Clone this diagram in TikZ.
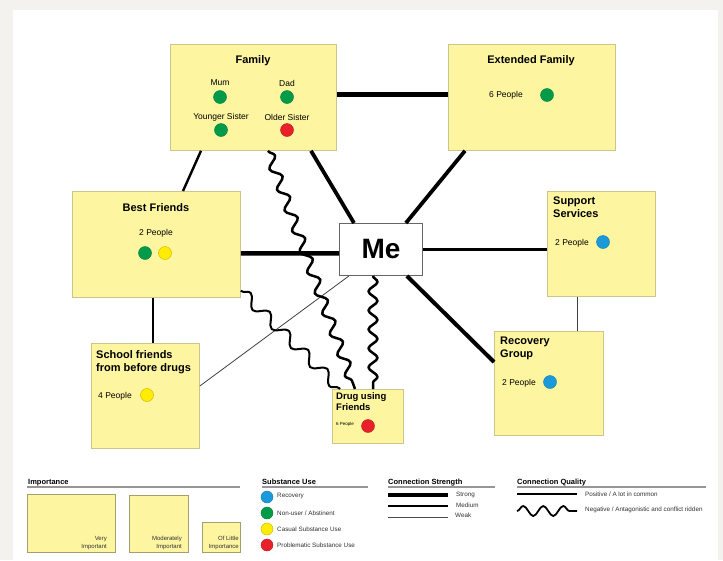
\documentclass[tikz,border=0pt]{standalone}
\usepackage{fontspec}
\setmainfont{Liberation Sans}
\usetikzlibrary{decorations.pathmorphing}
\definecolor{stickyfill}{RGB}{253,245,160}
\definecolor{stickyline}{RGB}{205,198,140}
\definecolor{bggrey}{RGB}{243,242,238}
\definecolor{dotgreen}{RGB}{0,155,72}
\definecolor{dotred}{RGB}{232,32,42}
\definecolor{dotyellow}{RGB}{255,236,0}
\definecolor{dotblue}{RGB}{26,154,217}
\definecolor{legtext}{RGB}{50,50,50}
\definecolor{rulegrey}{RGB}{150,150,150}
\tikzset{
  sticky/.style={draw=stickyline, fill=stickyfill, line width=0.8pt, rectangle, inner sep=0pt, anchor=north west},
  title/.style={font=\bfseries\fontsize{11}{13}\selectfont, inner sep=0pt},
  ltitle/.style={font=\bfseries\fontsize{11}{13}\selectfont, inner sep=0pt, align=left, anchor=north west},
  small/.style={font=\fontsize{8.5}{10}\selectfont, inner sep=0pt},
  dot/.style={circle, minimum size=13pt, inner sep=0pt, line width=0.4pt},
  green dot/.style={dot, fill=dotgreen, draw=dotgreen!80!black},
  red dot/.style={dot, fill=dotred, draw=dotred!80!black},
  yellow dot/.style={dot, fill=dotyellow, draw=dotyellow!75!black},
  blue dot/.style={dot, fill=dotblue, draw=dotblue!80!black},
  strong/.style={line width=4.5pt},
  medium/.style={line width=2.4pt},
  weak/.style={line width=0.8pt, draw=black!75},
  wavy/.style={line width=2.5pt, line join=round, decorate, decoration={snake, segment length=19pt, amplitude=4.5pt}},
  legtitle/.style={font=\bfseries\fontsize{7.5}{9}\selectfont, inner sep=0pt, anchor=base west},
  legrule/.style={draw=rulegrey, line width=1.3pt},
  legtxt/.style={font=\fontsize{6.3}{7.5}\selectfont, text=legtext, inner sep=0pt, anchor=west},
  legbox/.style={draw=stickyline!80!black, fill=stickyfill, line width=0.8pt, rectangle, inner sep=0pt, anchor=north west},
}
\begin{document}
\begin{tikzpicture}[x=1pt,y=-1pt]
\useasboundingbox (0,0) rectangle (723,560);
\fill[bggrey] (0,0) rectangle (723,560);
\fill[white] (13,10) rectangle (718,560);

% boxes
\node[sticky, minimum width=166pt, minimum height=106pt] (fam) at (170,44) {};
\node[sticky, minimum width=167pt, minimum height=106pt] (ext) at (448,44) {};
\node[sticky, minimum width=168pt, minimum height=106pt] (best) at (72,191) {};
\node[sticky, minimum width=108pt, minimum height=105pt] (sup) at (547,191) {};
\node[sticky, minimum width=109pt, minimum height=104pt] (rec) at (494,331) {};
\node[sticky, minimum width=108pt, minimum height=105pt] (school) at (91,343) {};
\node[sticky, minimum width=71pt, minimum height=54pt] (drug) at (332,389) {};
\node[draw=black!60, fill=white, line width=0.9pt, minimum width=83pt, minimum height=52pt, inner sep=0pt, anchor=north west,
      font=\bfseries\fontsize{28}{30}\selectfont] (me) at (339,223) {Me};

% connectors
\draw[strong] ([yshift=3pt]fam.east) -- ([yshift=3pt]ext.west);
\draw[medium] ([xshift=31pt]fam.south west) -- ([xshift=111pt]best.north west);
\draw[strong, line width=3.8pt] ([xshift=141pt]fam.south west) -- ([xshift=15pt]me.north west);
\draw[strong, line width=3.8pt] ([xshift=17pt]ext.south west) -- ([xshift=-17pt]me.north east);
\draw[strong] ([yshift=-9pt]best.east) -- ([yshift=-4pt]me.west);
\draw[weak] ([yshift=-43pt]school.north east) -- ([xshift=10pt]me.south west);
\draw[medium] (me.east) -- (me.east -| sup.west);
\draw[strong, line width=4pt] ([xshift=-16pt]me.south east) -- ([yshift=-31pt]rec.north west);
\draw[medium] ([xshift=81pt]best.south west) -- ([xshift=62pt]school.north west);
\draw[weak] ([xshift=30pt]sup.south west) -- ([xshift=30pt]sup.south west |- rec.north);
\draw[wavy, decoration={segment length=22pt, amplitude=5pt}] ([xshift=98pt]fam.south west) -- ([xshift=23pt]drug.north west);
\draw[wavy, line width=2pt, decoration={segment length=27pt, amplitude=5.5pt}] ([yshift=7pt]best.south east) -- ([xshift=8pt]drug.north west);
\draw[wavy] ([xshift=34pt]me.south west) -- ([xshift=41pt]drug.north west);

% Family
\node[title] (famT) at (253,61) {Family};
\node[small] (mumT) at (220,83) {Mum};
\node[small] (dadT) at (287,83) {Dad};
\node[small] (ysT) at (221,117) {Younger Sister};
\node[small] (osT) at (287,117) {Older Sister};
\node[green dot] (mumD) at (220,97) {};
\node[green dot] (dadD) at (287,97) {};
\node[green dot] (ysD) at (221,130) {};
\node[red dot] (osD) at (287,130) {};

% Extended family
\node[title] (extT) at (531,61) {Extended Family};
\node[small] (extP) at (506,95) {6 People};
\node[green dot] (extD) at (547,95) {};

% Best friends
\node[title] (bestT) at (156,208) {Best Friends};
\node[small] (bestP) at (156,233) {2 People};
\node[green dot] (bestD1) at (145,253) {};
\node[yellow dot] (bestD2) at (165,253) {};

% Support services
\node[ltitle] (supT) at (553,197) {Support\\Services};
\node[small, anchor=west] (supP) at (555,243) {2 People};
\node[blue dot] (supD) at (603,242) {};

% Recovery group
\node[ltitle] (recT) at (500,337) {Recovery\\Group};
\node[small, anchor=west] (recP) at (502,383) {2 People};
\node[blue dot] (recD) at (550,382) {};

% School friends
\node[ltitle] (schT) at (96,350) {School friends\\from before drugs};
\node[small, anchor=west] (schP) at (98,396) {4 People};
\node[yellow dot] (schD) at (147,395) {};

% Drug using friends
\node[ltitle, font=\bfseries\fontsize{9.5}{11.5}\selectfont] (drugT) at (336,392) {Drug using\\Friends};
\node[small, anchor=west, font=\fontsize{4.5}{5}\selectfont] (drugP) at (336,424) {6 People};
\node[red dot] (drugD) at (368,426) {};

% Legend: importance
\node[legtitle] (impT) at (28,484) {Importance};
\draw[legrule] (27,487) -- (240,487);
\node[legbox, minimum width=88pt, minimum height=58pt] (impA) at (27,494) {};
\node[legbox, minimum width=59pt, minimum height=57pt] (impB) at (129,495) {};
\node[legbox, minimum width=38pt, minimum height=30pt] (impC) at (202,522) {};
\node[font=\fontsize{6}{8}\selectfont, text=legtext, align=right, inner sep=0pt, anchor=south east] (impAT) at (107,550) {Very\\Important};
\node[font=\fontsize{6}{8}\selectfont, text=legtext, align=right, inner sep=0pt, anchor=south east] (impBT) at (182,550) {Moderately\\Important};
\node[font=\fontsize{6}{8}\selectfont, text=legtext, align=right, inner sep=0pt, anchor=south east] (impCT) at (239,550) {Of Little\\Importance};

% Legend: substance use
\node[legtitle] (subT) at (262,484) {Substance Use};
\draw[legrule] (262,487) -- (368,487);
\node[blue dot, minimum size=12pt] (subB) at (267,497) {};
\node[green dot, minimum size=12pt] (subG) at (267,513) {};
\node[yellow dot, minimum size=12pt] (subY) at (267,529) {};
\node[red dot, minimum size=12pt] (subR) at (267,545) {};
\node[legtxt] (subBT) at (277,496) {Recovery};
\node[legtxt] (subGT) at (277,513) {Non-user / Abstinent};
\node[legtxt] (subYT) at (277,529) {Casual Substance Use};
\node[legtxt] (subRT) at (277,545) {Problematic Substance Use};

% Legend: connection strength
\node[legtitle] (strT) at (388,484) {Connection Strength};
\draw[legrule] (388,487) -- (495,487);
\coordinate (s1a) at (388,495); \coordinate (s1b) at (448,495);
\coordinate (s2a) at (388,506); \coordinate (s2b) at (448,506);
\coordinate (s3a) at (388,517); \coordinate (s3b) at (448,517);
\draw[line width=4pt] (s1a) -- (s1b);
\draw[line width=2pt] (s2a) -- (s2b);
\draw[line width=0.9pt, draw=black!70] (s3a) -- (s3b);
\node[legtxt] (strS) at (456,495) {Strong};
\node[legtxt] (strM) at (456,505) {Medium};
\node[legtxt] (strW) at (455,515) {Weak};

% Legend: connection quality
\node[legtitle] (qualT) at (517,484) {Connection Quality};
\draw[legrule] (517,487) -- (706,487);
\coordinate (q1a) at (517,494); \coordinate (q1b) at (577,494);
\coordinate (q2a) at (517,511); \coordinate (q2b) at (577,511);
\draw[line width=1.6pt] (q1a) -- (q1b);
\draw[line width=1.8pt, decorate, decoration={snake, segment length=20pt, amplitude=5pt}] (q2a) -- (q2b);
\node[legtxt] (qualP) at (585,494) {Positive / A lot in common};
\node[legtxt] (qualN) at (585,510) {Negative / Antagonistic and conflict ridden};
\end{tikzpicture}
\end{document}
